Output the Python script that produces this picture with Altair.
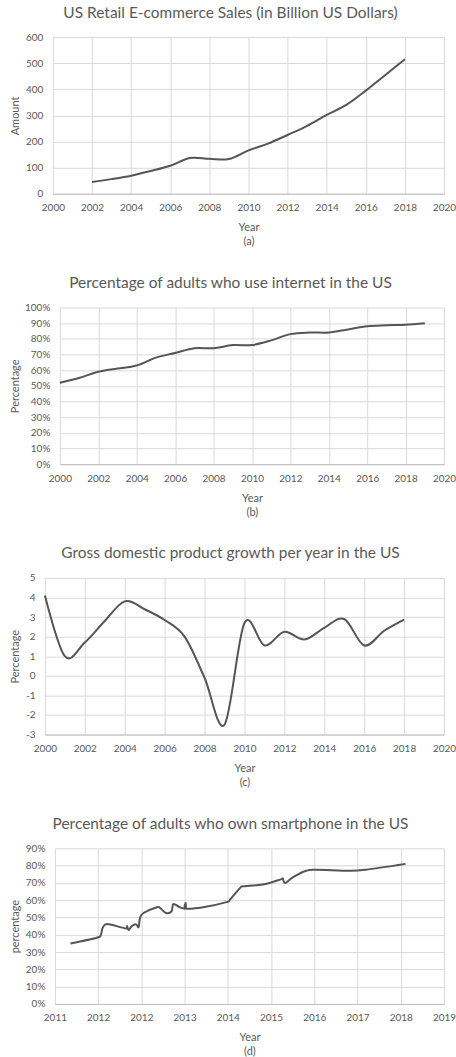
import altair as alt
import pandas as pd

FONT = "Lato"
GRID = "#d9d9d9"
AXISLINE = "#bfbfbf"
TEXT = "#595959"
LINE = "#555555"

# ---------- (a) US retail e-commerce sales ----------
ecom_title = "US Retail E-commerce Sales (in Billion US Dollars)"
ecom_years = [2002, 2003, 2004, 2005, 2006, 2007, 2008, 2009, 2010,
              2011, 2012, 2013, 2014, 2015, 2016, 2017, 2018]
ecom_sales = [45, 56, 69, 87, 107, 137, 134, 133, 166,
              192, 225, 260, 302, 340, 395, 455, 515]
ecom_xticks = [2000, 2002, 2004, 2006, 2008, 2010, 2012, 2014, 2016, 2018, 2020]
ecom_yticks = [0, 100, 200, 300, 400, 500, 600]

# ---------- (b) internet use ----------
inet_title = "Percentage of adults who use internet in the US"
inet_years = [2000, 2001, 2002, 2003, 2004, 2005, 2006, 2007, 2008, 2009,
              2010, 2011, 2012, 2013, 2014, 2015, 2016, 2017, 2018, 2019]
inet_pct = [52, 55, 59, 61, 63, 68, 71, 74, 74, 76,
            76, 79, 83, 84, 84, 86, 88, 88.6, 89, 90]
inet_xticks = [2000, 2002, 2004, 2006, 2008, 2010, 2012, 2014, 2016, 2018, 2020]
inet_yticks = [0, 10, 20, 30, 40, 50, 60, 70, 80, 90, 100]

# ---------- (c) GDP growth ----------
gdp_title = "Gross domestic product growth per year in the US"
gdp_years = [2000, 2001, 2002, 2003, 2004, 2005, 2006, 2007, 2008, 2009,
             2010, 2011, 2012, 2013, 2014, 2015, 2016, 2017, 2018]
gdp_growth = [4.1, 1.0, 1.7, 2.8, 3.8, 3.4, 2.85, 2.0, -0.1, -2.5,
              2.7, 1.55, 2.25, 1.85, 2.45, 2.9, 1.55, 2.3, 2.87]
gdp_xticks = [2000, 2002, 2004, 2006, 2008, 2010, 2012, 2014, 2016, 2018, 2020]
gdp_yticks = [-3, -2, -1, 0, 1, 2, 3, 4, 5]

# ---------- (d) smartphone ownership ----------
phone_title = "Percentage of adults who own smartphone in the US"
# position along the date axis, in axis-label steps (0 = first label)
phone_pos = [0.36, 0.97, 1.06, 1.105, 1.17, 1.28, 1.63, 1.67, 1.70, 1.78,
             1.88, 1.935, 1.97, 2.05, 2.36, 2.43, 2.57, 2.70, 2.74, 2.89,
             3.02, 3.025, 3.03, 3.43, 3.97, 4.05, 4.28, 4.35, 4.66, 4.9,
             5.24, 5.27, 5.33, 5.50, 5.81, 6.04, 6.81, 7.19, 8.11]
phone_pct = [35.0, 38.3, 39.8, 44.0, 46.0, 46.0, 43.7, 45.0, 42.7, 45.0,
             46.0, 44.4, 49.8, 52.6, 55.9, 55.5, 52.6, 53.6, 57.8, 55.9,
             55.2, 58.4, 55.2, 55.9, 58.9, 60.3, 67.0, 68.0, 68.6, 69.5,
             72.2, 72.4, 69.9, 73.2, 77.0, 77.6, 77.0, 77.6, 81.0]
phone_xlabels = ["2011", "2012", "2012", "2013", "2014", "2015",
                 "2016", "2017", "2018", "2019"]
phone_yticks = [0, 10, 20, 30, 40, 50, 60, 70, 80, 90]

TITLE_CENTER_X = 14.5   # absolute x of rotated y-axis titles
CHART_CENTER_X = 230    # absolute x of the centred chart titles


def panel(xs, ys, title, caption, xdom, xticks, xlabel_expr, ydom, yticks,
          ylabel_expr, ytitle, w, h, plot_left):
    df = pd.DataFrame({"x": xs, "y": ys, "i": list(range(len(xs)))})
    xaxis = alt.Axis(values=xticks, title=["Year", caption], grid=True,
                     gridColor=GRID, gridWidth=1, domainColor=AXISLINE,
                     ticks=False, labelPadding=9, titlePadding=9,
                     labelFlush=False, labelOverlap=False, titleLineHeight=14,
                     labelExpr=xlabel_expr)
    yaxis = alt.Axis(values=yticks, title=ytitle, grid=True, gridColor=GRID,
                     gridWidth=1, domain=False, ticks=False, labelPadding=10,
                     labelFlush=False, labelOverlap=False,
                     titleX=TITLE_CENTER_X - plot_left, titleY=h / 2,
                     titleAlign="center", titleBaseline="middle",
                     titleAngle=270, labelExpr=ylabel_expr)
    ch = alt.Chart(df).mark_line(
        color=LINE, strokeWidth=2, interpolate="cardinal"
    ).encode(
        x=alt.X("x:Q", scale=alt.Scale(domain=xdom, nice=False, zero=False), axis=xaxis),
        y=alt.Y("y:Q", scale=alt.Scale(domain=ydom, nice=False, zero=False), axis=yaxis),
        order=alt.Order("i:Q"),
    ).properties(
        width=w, height=h,
        title=alt.TitleParams(text=title, fontSize=15.5, font=FONT, color=TEXT,
                              fontWeight="normal", anchor="middle", frame="group",
                              dx=CHART_CENTER_X - (plot_left + w / 2),
                              offset=11),
    )
    # an empty 1-px spacer in front lets each row keep its own plot origin
    spacer = alt.Chart(pd.DataFrame({"s": [0]})).transform_filter(
        "datum.s > 1").mark_point().properties(width=1, height=1)
    return alt.hconcat(spacer, ch, spacing=0)


pa = panel(ecom_years, ecom_sales, ecom_title, "(a)", [2000, 2020], ecom_xticks,
           "'' + datum.value", [0, 600], ecom_yticks, "'' + datum.value",
           "Amount", 392, 157, 52)
pb = panel(inet_years, inet_pct, inet_title, "(b)", [2000, 2020], inet_xticks,
           "'' + datum.value", [0, 100], inet_yticks, "datum.value + '%'",
           "Percentage", 385, 157, 59)
pc = panel(gdp_years, gdp_growth, gdp_title, "(c)", [2000, 2020], gdp_xticks,
           "'' + datum.value", [-3, 5], gdp_yticks, "'' + datum.value",
           "Percentage", 400, 157, 44)
phone_label_expr = "[" + ",".join("'%s'" % s for s in phone_xlabels) + "][datum.value]"
pd_ = panel(phone_pos, phone_pct, phone_title, "(d)", [0, 9], list(range(10)),
            phone_label_expr, [0, 90], phone_yticks, "datum.value + '%'",
            "percentage", 390, 156, 54)

chart = alt.vconcat(pa, pb, pc, pd_, spacing=29).properties(
    padding={"left": 8, "top": 4, "right": 0, "bottom": 0}
).configure_axis(
    labelFont=FONT, titleFont=FONT, labelColor=TEXT, titleColor=TEXT,
    labelFontSize=10, titleFontSize=11, titleFontWeight="normal",
).configure_view(stroke=None)

chart.save("out.html", embed_options={"renderer": "svg", "actions": False})
